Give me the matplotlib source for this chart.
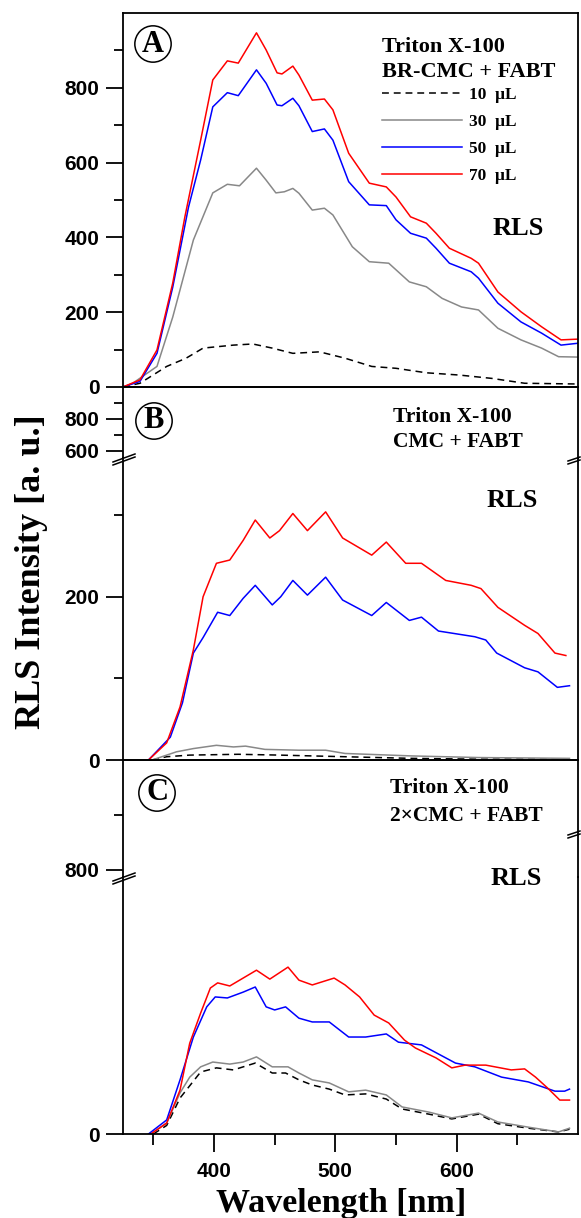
import matplotlib
matplotlib.use("Agg")
import matplotlib.pyplot as plt
from matplotlib.lines import Line2D
from matplotlib.font_manager import FontProperties

# Figure size in pixels (dpi = 100)
W, H = 581, 1218
LEFT, RIGHT = 123, 578
XLIM = (325, 700)

plt.rcParams["font.family"] = ["Liberation Sans", "DejaVu Sans"]
plt.rcParams["font.weight"] = "bold"
SERIF = ["Liberation Serif", "DejaVu Serif"]

# ---------------- data ----------------
# Panel A : Triton X-100, BR-CMC + FABT
a_wl_10 = [325, 339, 361, 377, 391, 416, 432, 448, 454, 465, 487, 508, 530, 550, 575, 602, 629, 656, 700]
a_in_10 = [0, 10, 55, 77, 104, 112, 115, 104, 99, 90, 94, 77, 55, 50, 38, 32, 23, 10, 8]
a_wl_30 = [325, 333, 353, 366, 383, 399, 411, 421, 435, 443, 451, 458, 465, 470, 481, 491, 498, 514,
           528, 544, 561, 575, 588, 604, 618, 634, 653, 670, 684, 700]
a_in_30 = [0, 10, 55, 187, 393, 519, 542, 538, 585, 553, 519, 522, 531, 518, 473, 478, 460, 375,
           335, 331, 281, 268, 237, 214, 206, 157, 126, 104, 81, 80]
a_wl_50 = [325, 339, 353, 366, 379, 389, 399, 411, 420, 435, 443, 452, 456, 465, 470, 481, 491, 498,
           511, 528, 542, 550, 562, 575, 583, 594, 612, 618, 634, 653, 670, 686, 700]
a_in_50 = [0, 15, 90, 267, 481, 607, 749, 787, 779, 848, 812, 754, 752, 772, 752, 683, 690, 660,
           549, 487, 485, 447, 411, 398, 371, 331, 308, 291, 224, 174, 144, 112, 117]
a_wl_70 = [325, 339, 353, 366, 376, 389, 399, 411, 420, 435, 443, 452, 456, 465, 470, 481, 491, 498,
           511, 528, 542, 550, 562, 575, 583, 594, 612, 618, 634, 653, 670, 686, 700]
a_in_70 = [0, 19, 99, 278, 455, 660, 821, 872, 866, 947, 901, 840, 837, 858, 834, 767, 770, 741,
           625, 545, 535, 508, 455, 438, 411, 371, 344, 331, 254, 201, 161, 126, 128]

# Panel B : Triton X-100, CMC + FABT
b_wl_10 = [349, 361, 380, 420, 454, 508, 563, 618, 693]
b_in_10 = [0, 4, 6, 7, 6, 4, 2, 1, 1]
b_wl_30 = [349, 369, 383, 402, 416, 426, 442, 470, 492, 508, 563, 618, 693]
b_in_30 = [0, 10, 14, 18, 16, 17, 13, 12, 12, 8, 5, 3, 2]
b_wl_50 = [346, 364, 374, 383, 391, 403, 413, 424, 434, 448, 455, 465, 477, 492, 506, 530, 542, 561,
           571, 585, 615, 624, 633, 656, 667, 683, 693]
b_in_50 = [0, 28, 70, 131, 150, 181, 177, 198, 214, 190, 200, 220, 202, 224, 196, 177, 193, 171,
           175, 158, 151, 147, 131, 113, 108, 89, 91]
b_wl_70 = [346, 361, 372, 383, 391, 402, 413, 424, 434, 446, 454, 465, 477, 492, 506, 530, 542, 558,
           571, 591, 612, 620, 634, 656, 667, 681, 690]
b_in_70 = [0, 21, 65, 135, 200, 241, 245, 269, 294, 272, 281, 302, 281, 304, 272, 251, 267, 241,
           241, 220, 214, 210, 187, 165, 155, 131, 128]

# Panel C : Triton X-100, 2xCMC + FABT
c_wl_10 = [350, 361, 372, 389, 402, 416, 434, 448, 459, 470, 481, 495, 508, 525, 542, 555, 577, 596,
           618, 634, 659, 684, 693]
c_in_10 = [0, 25, 105, 181, 193, 187, 207, 178, 178, 158, 143, 131, 114, 117, 102, 73, 58, 44,
           58, 30, 17, 6, 14]
c_wl_30 = [348, 361, 372, 380, 389, 399, 413, 424, 435, 448, 461, 470, 481, 495, 511, 525, 542, 555,
           577, 596, 618, 634, 659, 684, 693]
c_in_30 = [0, 32, 120, 166, 196, 210, 204, 210, 225, 196, 196, 178, 158, 149, 123, 128, 114, 79,
           64, 47, 61, 35, 20, 6, 17]
c_wl_50 = [346, 361, 372, 383, 394, 401, 411, 424, 434, 443, 450, 459, 470, 481, 495, 511, 525, 542,
           552, 571, 599, 615, 637, 659, 681, 689, 693]
c_in_50 = [0, 41, 158, 283, 371, 400, 397, 414, 429, 371, 362, 371, 338, 327, 327, 283, 283, 292,
           268, 260, 207, 196, 166, 152, 125, 125, 131]
c_wl_70 = [348, 361, 372, 380, 389, 397, 403, 413, 424, 435, 446, 461, 470, 481, 499, 508, 520, 532,
           544, 557, 566, 583, 596, 607, 624, 645, 656, 665, 675, 685, 693]
c_in_70 = [0, 32, 128, 265, 353, 426, 441, 432, 455, 478, 452, 487, 449, 435, 455, 435, 400, 347,
           324, 274, 251, 222, 193, 201, 201, 187, 190, 166, 134, 99, 99]

volumes = ["10  \u03bcL", "30  \u03bcL", "50  \u03bcL", "70  \u03bcL"]
x_major = [400, 500, 600]
x_minor = [350, 450, 550, 650]

# ---------------- styles ----------------
line_opts = [
    {"color": "black", "linewidth": 1.1, "dashes": (4.5, 3.2)},
    {"color": "#888888", "linewidth": 1.1},
    {"color": "#0000ff", "linewidth": 1.1},
    {"color": "#ff0000", "linewidth": 1.1},
]
text_opts = {"family": SERIF, "weight": "bold"}


def fx(x):
    return x / W


def fy(y):
    return 1 - y / H


def add_axes(fig, top, bottom, ylim, major, minor, show_top, show_bottom):
    ax = fig.add_axes([fx(LEFT), fy(bottom), (RIGHT - LEFT) / W, (bottom - top) / H])
    ax.set_xlim(XLIM)
    ax.set_ylim(ylim)
    ax.set_yticks(major)
    ax.set_yticks(minor, minor=True)
    ax.spines["top"].set_visible(show_top)
    ax.spines["bottom"].set_visible(show_bottom)
    for s in ax.spines.values():
        s.set_linewidth(1.3)
    ax.tick_params(axis="y", which="major", direction="out", length=12, width=1.3, pad=5, labelsize=15)
    ax.tick_params(axis="y", which="minor", direction="out", length=6.5, width=1.3)
    ax.tick_params(axis="x", which="both", bottom=False, labelbottom=False)
    ax.patch.set_alpha(0)
    return ax


def draw_series(axes, series, with_label=False):
    for ax in axes:
        for (wl, inten), opt, lab in zip(series, line_opts, volumes):
            ax.plot(wl, inten, label=lab if with_label else None, **opt)


def break_mark(fig, x0, x1, y0, y1, gap=3):
    for d in (0, gap):
        fig.add_artist(Line2D([fx(x0), fx(x1)], [fy(y0 + d), fy(y1 + d)],
                              transform=fig.transFigure, color="black", linewidth=1.1))


def circled(fig, x, y, letter):
    fig.text(fx(x), fy(y), letter, ha="center", va="center", size=22, **text_opts,
             bbox=dict(boxstyle="circle,pad=0.12", fc="white", ec="black", lw=1.1))


def put(fig, x, y, s, size):
    fig.text(fx(x), fy(y), s, ha="left", va="baseline", size=size, **text_opts)


fig = plt.figure(figsize=(W / 100, H / 100), dpi=100)

# Panel A
ax_a = add_axes(fig, 13, 387, (0, 1000), [0, 200, 400, 600, 800], [100, 300, 500, 700, 900], True, True)
draw_series([ax_a], [(a_wl_10, a_in_10), (a_wl_30, a_in_30), (a_wl_50, a_in_50), (a_wl_70, a_in_70)],
            with_label=True)
ax_a.legend(loc="upper left", bbox_to_anchor=(fx(382), fy(87)), bbox_transform=fig.transFigure,
            frameon=False, borderpad=0, borderaxespad=0, handlelength=4.6, handletextpad=0.4,
            labelspacing=0.62, prop=FontProperties(family=SERIF, weight="bold", size=12.5))

# Panel B (broken axis)
ax_b1 = add_axes(fig, 387, 458, (554, 1000), [600, 800], [700, 900], True, False)
ax_b2 = add_axes(fig, 458, 760, (0, 370), [0, 200], [100, 300], False, True)
draw_series([ax_b1, ax_b2], [(b_wl_10, b_in_10), (b_wl_30, b_in_30), (b_wl_50, b_in_50), (b_wl_70, b_in_70)])

# Panel C (broken axis)
ax_c1 = add_axes(fig, 760, 877, (787, 1000), [800], [900], True, False)
ax_c2 = add_axes(fig, 877, 1134, (0, 750), [0], [], False, True)
draw_series([ax_c1, ax_c2], [(c_wl_10, c_in_10), (c_wl_30, c_in_30), (c_wl_50, c_in_50), (c_wl_70, c_in_70)])
ax_c2.set_xticks(x_major)
ax_c2.set_xticks(x_minor, minor=True)
ax_c2.tick_params(axis="x", which="major", bottom=True, labelbottom=True, direction="out",
                  length=13, width=1.3, pad=7, labelsize=15)
ax_c2.tick_params(axis="x", which="minor", bottom=True, direction="out", length=8, width=1.3)

# break marks
break_mark(fig, 113, 135, 462, 454)
break_mark(fig, 568, 580, 461, 457)
break_mark(fig, 113, 135, 881, 873)
break_mark(fig, 568, 580, 835, 831)

# panel letters
circled(fig, 153, 44, "A")
circled(fig, 154, 421, "B")
circled(fig, 157, 793, "C")

# annotations
put(fig, 382, 52, "Triton X-100", 16)
put(fig, 382, 77, "BR-CMC + FABT", 16)
put(fig, 493, 235, "RLS", 19)
put(fig, 393, 422, "Triton X-100", 15.5)
put(fig, 393, 447, "CMC + FABT", 15.5)
put(fig, 487, 507, "RLS", 19)
put(fig, 390, 793, "Triton X-100", 15.5)
put(fig, 390, 821, "2\u00d7CMC + FABT", 15.5)
put(fig, 491, 885, "RLS", 19)

# axis titles
fig.text(fx(32), fy(572), "RLS Intensity [a. u.]", rotation=90, ha="center", va="center",
         size=26, **text_opts)
fig.text(fx(341), fy(1212), "Wavelength [nm]", ha="center", va="baseline", size=24.5, **text_opts)

fig.savefig("out.png", dpi=100)
